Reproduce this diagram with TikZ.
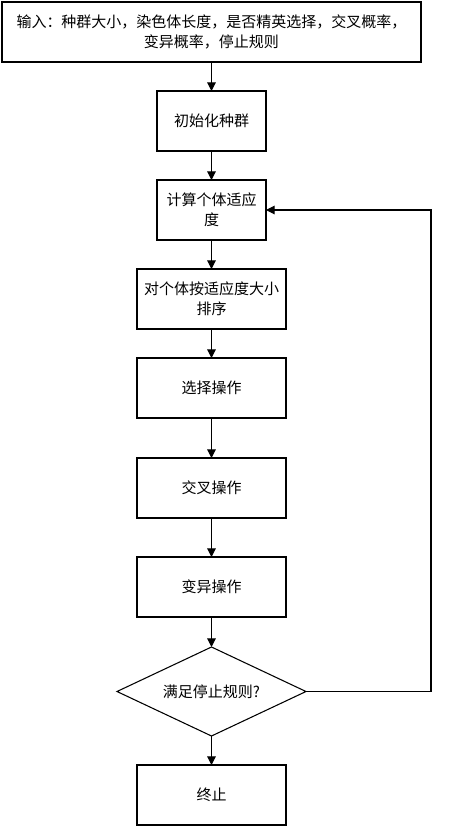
\documentclass[tikz,border=0pt]{standalone}
\usepackage{fontspec}
\setmainfont{Noto Sans CJK SC}
\usetikzlibrary{positioning}
\usetikzlibrary{shapes.geometric}
\usetikzlibrary{arrows.meta}

\begin{document}
\begin{tikzpicture}[x=0.75pt, y=-0.75pt, node distance=21.75pt,
  font=\fontsize{11.25}{15}\selectfont,
  box/.style={draw, rectangle, thick, minimum height=45pt, minimum width=81.75pt, align=center, inner sep=0pt, outer sep=0pt},
  wbox/.style={box, minimum width=111.75pt},
  arr/.style={-{Triangle[length=6.5pt,width=6.5pt]}, thick}]
  \useasboundingbox (0,0) rectangle (469,826);
  \node[box, minimum width=314.25pt] (in) at (211.5,32) {输入：种群大小，染色体长度，是否精英选择，交叉概率，\\变异概率，停止规则};
  \node[box, below=of in] (init) {初始化种群};
  \node[box, below=of init] (fit) {计算个体适应\\度};
  \node[wbox, below=of fit] (sort) {对个体按适应度大小\\排序};
  \node[wbox, below=of sort] (sel) {选择操作};
  \node[wbox, below=30pt of sel] (cross) {交叉操作};
  \node[wbox, below=29.25pt of cross] (mut) {变异操作};
  \node[draw, diamond, thick, aspect=2.1, minimum width=141.75pt, minimum height=66.75pt, inner sep=0pt, outer sep=0pt, below=22.5pt of mut] (stop) {满足停止规则?};
  \node[wbox, below=of stop] (end) {终止};
  \coordinate (loop) at (431,690);

  \path[arr] (in) edge (init);
  \path[arr] (init) edge (fit);
  \path[arr] (fit) edge (sort);
  \path[arr] (sort) edge (sel);
  \path[arr] (sel) edge (cross);
  \path[arr] (cross) edge (mut);
  \path[arr] (mut) edge (stop);
  \path[arr] (stop) edge (end);

  \draw[arr] (stop.east) -- (stop.east -| loop) |- (fit.east);
\end{tikzpicture}
\end{document}
